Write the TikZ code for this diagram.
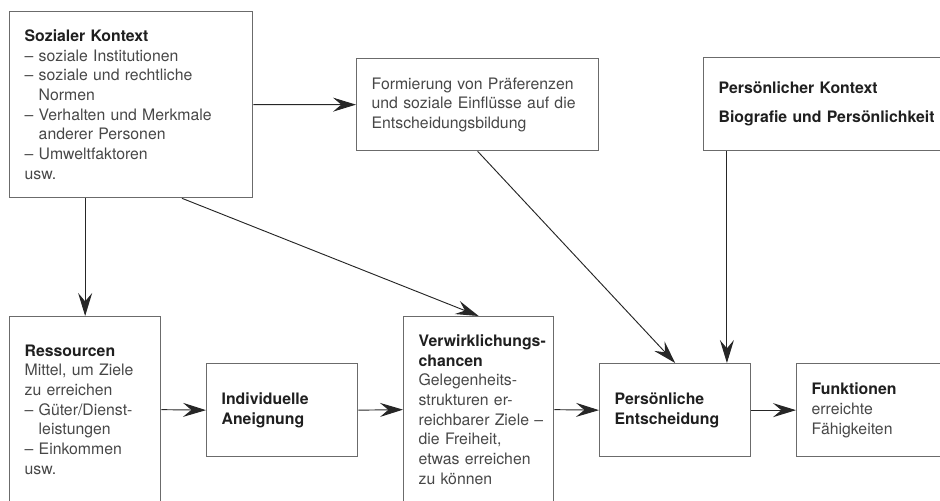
\documentclass[tikz,border=0pt]{standalone}
\usepackage{fontspec}
\setmainfont{TeX Gyre Heros}
\usepackage{xcolor}
\usetikzlibrary{arrows.meta,calc,positioning}

\definecolor{boxline}{gray}{0.42}
\definecolor{bodytext}{gray}{0.28}
\definecolor{headtext}{gray}{0.12}
\newcommand{\hd}[1]{{\color{headtext}\bfseries #1}}
\newcommand{\ind}{\phantom{– }}

\begin{document}
\begin{tikzpicture}[every node/.style={font=\fontsize{13.5}{16.8}\selectfont},
    box/.style={draw=boxline, line width=1.1pt, anchor=north west, align=left,
      inner xsep=0.45cm, inner ysep=0pt, text=bodytext},
    flow/.style={-{Stealth[length=0.69cm,width=0.42cm,inset=0.25cm]}, line width=0.8pt, draw=black!85}]
    \useasboundingbox (0,0) rectangle (28.2,-15);
    \clip (0,0) rectangle (28.2,-15);

    % upper row
    \node[box, text width=6.39cm, minimum height=5.58cm] (soz) at (0.27,-0.33) {
    \hd{Sozialer Kontext}\\
    – soziale Institutionen\\
    – soziale und rechtliche\\
    \ind Normen\\
    – Verhalten und Merkmale\\
    \ind anderer Personen\\
    – Umweltfaktoren\\
    usw.};
    \node[box, text width=6.36cm, minimum height=2.76cm] (form) at (10.68,-1.74) {
    Formierung von Präferenzen\\
    und soziale Einflüsse auf die\\
    Entscheidungsbildung};
    \node[box, text width=6.9cm, minimum height=2.79cm] (pers) at (21.09,-1.71) {
    \hd{Persönlicher Kontext}\\[0.29cm]
    \hd{Biografie und Persönlichkeit}};

    % lower row
    \node[box, text width=3.63cm, minimum height=5.58cm] (res) at (0.27,-9.48) {
    \hd{Ressourcen}\\
    Mittel, um Ziele\\
    zu erreichen\\
    – Güter/Dienst-\\
    \ind leistungen\\
    – Einkommen\\
    usw.};
    \node[box, text width=3.63cm, minimum height=2.79cm] (ind) at (6.18,-10.89) {
    \hd{Individuelle}\\
    \hd{Aneignung}};
    \node[box, text width=3.6cm, minimum height=5.58cm] (verw) at (12.09,-9.48) {
    \mbox{\hd{Verwirklichungs-}}\\
    \hd{chancen}\\
    \mbox{Gelegenheits-}\\
    \mbox{strukturen er-}\\
    \mbox{reichbarer Ziele –}\\
    die Freiheit,\\
    \mbox{etwas erreichen}\\
    zu können};
    \node[box, text width=3.63cm, minimum height=2.79cm] (ent) at (17.97,-10.89) {
    \hd{Persönliche}\\
    \hd{Entscheidung}};
    \node[box, text width=3.9cm, minimum height=2.79cm] (fkt) at (23.88,-10.89) {
    \hd{Funktionen}\\
    erreichte\\
    Fähigkeiten};

    \coordinate (sozOut) at ($(soz.south west)!0.708!(soz.south east)$);
    \coordinate (entIn) at ($(ent.north west)!0.84!(ent.north east)$);

    \draw[flow] (soz.east) -- (form.west);
    \draw[flow] (soz.south -| res.north) -- (res.north);
    \draw[flow] (sozOut) -- (verw.north);
    \draw[flow] (form.south) -- (ent.north);
    \draw[flow] (pers.south -| entIn) -- (entIn);
    \draw[flow] (res.east) -- (ind.west);
    \draw[flow] (ind.east) -- (verw.west);
    \draw[flow] (verw.east) -- (ent.west);
    \draw[flow] (ent.east) -- (fkt.west);
\end{tikzpicture}
\end{document}
